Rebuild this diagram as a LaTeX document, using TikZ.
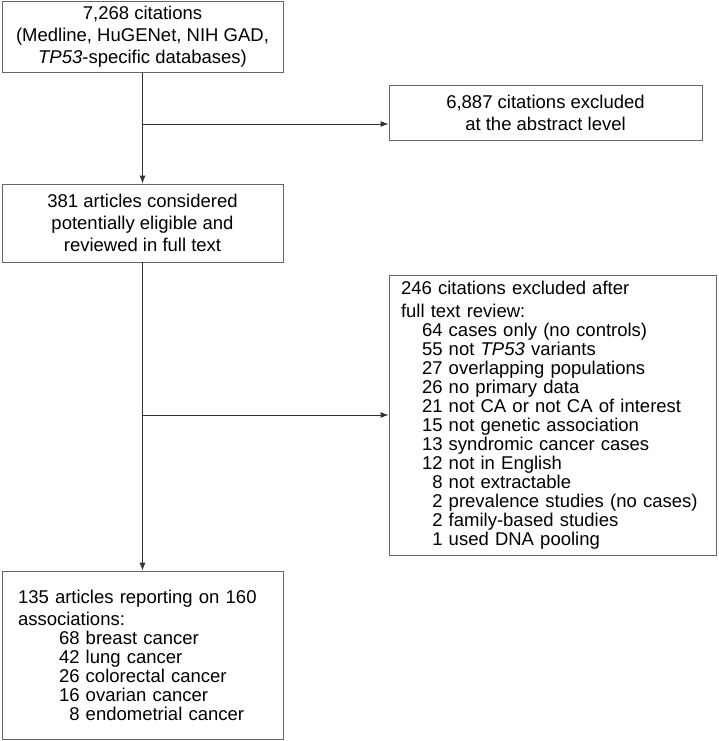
\documentclass[tikz,border=0pt]{standalone}
\usepackage{fontspec}
\setmainfont{Liberation Sans}
\usetikzlibrary{arrows.meta}

\begin{document}
\begin{tikzpicture}[
    x=1pt, y=-1pt,
    box/.style={draw=black!60, thick, fill=white, inner sep=0pt,
        font=\fontsize{18.5}{22}\selectfont, align=center},
    listbox/.style={box, align=left, font=\fontsize{18.5}{19}\selectfont},
    edge/.style={thick, black!80, -{Latex[length=8pt,width=6pt]}}
]
    \useasboundingbox (0,0) rectangle (718,741);
    \node[box, minimum width=281pt, minimum height=71pt] (cit) at (142.5,37)
        {7,268 citations\\(Medline, HuGENet, NIH GAD,\\\textit{TP53}-specific databases)};
    \node[box, minimum width=313pt, minimum height=55pt] (abs) at (545.5,113)
        {6,887 citations excluded\\at the abstract level};
    \node[box, minimum width=281pt, minimum height=78pt] (full) at (142.5,223)
        {381 articles considered\\potentially eligible and\\reviewed in full text};
    \node[listbox, minimum width=327pt, minimum height=280pt,
        text width=303pt] (excl) at (552.5,415)
        {246 citations excluded after\\[4pt]
        full text review:\\
        \hspace*{21pt}64 cases only (no controls)\\
        \hspace*{21pt}55 not \textit{TP53} variants\\
        \hspace*{21pt}27 overlapping populations\\
        \hspace*{21pt}26 no primary data\\
        \hspace*{21pt}21 not CA or not CA of interest\\
        \hspace*{21pt}15 not genetic association\\
        \hspace*{21pt}13 syndromic cancer cases\\
        \hspace*{21pt}12 not in English\\
        \hspace*{21pt}\phantom{1}8 not extractable\\
        \mbox{\hspace*{21pt}\phantom{1}2 prevalence studies (no cases)}\\
        \hspace*{21pt}\phantom{1}2 family-based studies\\
        \hspace*{21pt}\phantom{1}1 used DNA pooling};
    \node[listbox, minimum width=281pt, minimum height=168pt,
        text width=249pt] (res) at (142.5,655)
        {135 articles reporting on 160\\[3pt]
        associations:\\
        \hspace*{41pt}68 breast cancer\\
        \hspace*{41pt}42 lung cancer\\
        \hspace*{41pt}26 colorectal cancer\\
        \hspace*{41pt}16 ovarian cancer\\
        \hspace*{41pt}\phantom{1}8 endometrial cancer};
    \coordinate (j1) at (142.5,124);
    \coordinate (j2) at (142.5,415);
    \draw[edge] (cit) -- (full);
    \draw[edge] (j1) -- (j1 -| abs.west);
    \draw[edge] (full) -- (res);
    \draw[edge] (j2) -- (excl);
\end{tikzpicture}
\end{document}
